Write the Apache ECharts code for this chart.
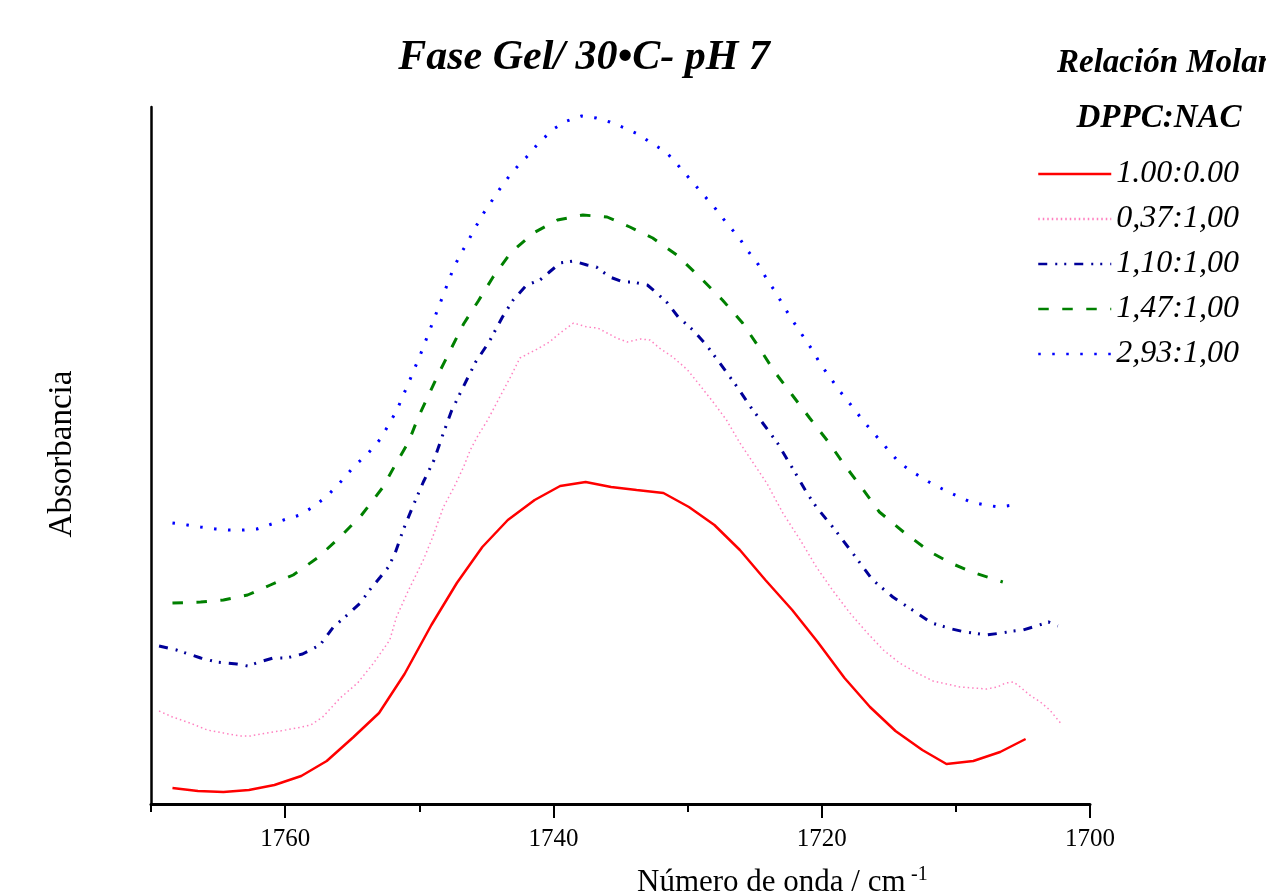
<!DOCTYPE html>
<html>
<head>
<meta charset="utf-8">
<title>Fase Gel 30C pH 7</title>
<script src="https://cdn.jsdelivr.net/npm/echarts@6/dist/echarts.min.js"></script>
<style>
  html, body { margin: 0; padding: 0; background: #fff; }
  #chart { width: 1266px; height: 892px; }
</style>
</head>
<body>
<div id="chart"></div>
<script>
// [wavenumber cm-1, absorbance (a.u.)]
const ratio100_000 = [
  [1768.4, 0.016], [1766.5, 0.013], [1764.6, 0.012], [1762.7, 0.014], [1760.8, 0.019],
  [1758.8, 0.028], [1756.9, 0.043], [1754.9, 0.067], [1753.0, 0.091], [1751.1, 0.130],
  [1749.1, 0.179], [1747.2, 0.221], [1745.3, 0.257], [1743.4, 0.284], [1741.4, 0.304],
  [1739.5, 0.318], [1737.6, 0.322], [1735.7, 0.317], [1733.8, 0.314], [1731.8, 0.311],
  [1729.9, 0.297], [1728.0, 0.279], [1726.1, 0.254], [1724.2, 0.224], [1722.2, 0.194],
  [1720.3, 0.162], [1718.3, 0.126], [1716.4, 0.097], [1714.5, 0.073], [1712.5, 0.054],
  [1710.7, 0.040], [1708.7, 0.043], [1706.7, 0.052], [1704.8, 0.065]
]
const ratio037_100 = [
  [1769.4, 0.093], [1768.4, 0.087], [1767.1, 0.081], [1765.8, 0.074], [1764.6, 0.071],
  [1763.4, 0.068], [1762.6, 0.068], [1761.4, 0.071], [1760.4, 0.073], [1759.1, 0.076],
  [1758.1, 0.079], [1757.2, 0.087], [1755.9, 0.106], [1754.6, 0.121], [1753.4, 0.141],
  [1752.2, 0.164], [1751.7, 0.187], [1750.9, 0.211], [1749.7, 0.244], [1749.0, 0.267],
  [1748.2, 0.297], [1747.4, 0.317], [1746.7, 0.337], [1746.2, 0.354], [1745.6, 0.369],
  [1744.9, 0.384], [1744.0, 0.407], [1743.2, 0.427], [1742.5, 0.446], [1741.2, 0.455],
  [1740.3, 0.462], [1739.5, 0.471], [1738.5, 0.481], [1737.5, 0.477], [1736.7, 0.476],
  [1736.0, 0.471], [1735.3, 0.466], [1734.5, 0.462], [1733.5, 0.465], [1732.8, 0.464],
  [1732.1, 0.456], [1731.1, 0.447], [1730.0, 0.434], [1729.1, 0.419], [1728.1, 0.402],
  [1727.1, 0.384], [1726.1, 0.361], [1725.1, 0.341], [1724.1, 0.321], [1722.9, 0.291],
  [1721.6, 0.264], [1720.4, 0.237], [1719.2, 0.214], [1717.9, 0.191], [1716.6, 0.171],
  [1715.4, 0.154], [1714.2, 0.141], [1712.9, 0.131], [1711.7, 0.123], [1710.7, 0.120],
  [1709.7, 0.117], [1708.7, 0.116], [1707.7, 0.115], [1706.9, 0.117], [1706.3, 0.121],
  [1705.7, 0.122], [1705.2, 0.117], [1704.5, 0.109], [1703.7, 0.102], [1703.0, 0.094],
  [1702.2, 0.081]
]
const ratio110_100 = [
  [1769.4, 0.158], [1768.1, 0.154], [1766.3, 0.146], [1765.1, 0.142], [1763.6, 0.140],
  [1762.8, 0.138], [1761.9, 0.142], [1760.9, 0.146], [1759.9, 0.146], [1758.7, 0.150],
  [1757.4, 0.159], [1756.4, 0.177], [1755.2, 0.191], [1754.4, 0.201], [1753.7, 0.214],
  [1752.9, 0.227], [1752.3, 0.237], [1751.8, 0.251], [1751.2, 0.274], [1750.5, 0.297],
  [1749.7, 0.322], [1748.9, 0.344], [1748.2, 0.371], [1747.6, 0.393], [1746.8, 0.415],
  [1745.8, 0.442], [1744.8, 0.462], [1743.8, 0.487], [1743.0, 0.504], [1742.0, 0.519],
  [1741.0, 0.524], [1740.3, 0.532], [1739.5, 0.541], [1738.5, 0.543], [1737.5, 0.539],
  [1736.8, 0.537], [1735.8, 0.527], [1734.8, 0.522], [1734.1, 0.522], [1733.0, 0.519],
  [1732.3, 0.511], [1731.5, 0.501], [1730.7, 0.487], [1729.6, 0.474], [1728.6, 0.459],
  [1727.6, 0.441], [1726.3, 0.417], [1725.3, 0.397], [1724.4, 0.381], [1723.3, 0.361],
  [1722.1, 0.334], [1721.1, 0.311], [1720.4, 0.297], [1719.0, 0.274], [1717.7, 0.251],
  [1716.2, 0.224], [1714.7, 0.207], [1712.9, 0.191], [1711.8, 0.181], [1710.3, 0.175],
  [1709.3, 0.172], [1707.7, 0.169], [1706.6, 0.171], [1705.7, 0.173], [1705.0, 0.174],
  [1704.0, 0.178], [1703.1, 0.182], [1702.4, 0.178]
]
const ratio147_100 = [
  [1768.4, 0.201], [1766.3, 0.202], [1764.6, 0.204], [1762.8, 0.209], [1761.1, 0.219],
  [1759.4, 0.229], [1757.6, 0.246], [1755.9, 0.267], [1754.3, 0.289], [1752.7, 0.317],
  [1751.8, 0.339], [1750.8, 0.362], [1750.1, 0.386], [1749.3, 0.409], [1748.5, 0.432],
  [1747.6, 0.456], [1746.7, 0.480], [1745.6, 0.503], [1744.5, 0.527], [1743.2, 0.551],
  [1741.5, 0.571], [1739.7, 0.584], [1737.8, 0.589], [1736.0, 0.587], [1734.3, 0.577],
  [1732.6, 0.566], [1730.8, 0.549], [1729.1, 0.527], [1727.4, 0.504], [1725.9, 0.481],
  [1724.7, 0.457], [1723.5, 0.432], [1722.2, 0.409], [1720.9, 0.386], [1719.5, 0.362],
  [1718.3, 0.339], [1717.0, 0.316], [1715.7, 0.292], [1713.9, 0.272], [1711.9, 0.252],
  [1710.4, 0.241], [1708.6, 0.231], [1706.5, 0.222]
]
const ratio293_100 = [
  [1768.4, 0.281], [1767.3, 0.279], [1766.3, 0.277], [1765.2, 0.275], [1764.2, 0.274],
  [1763.1, 0.274], [1762.1, 0.275], [1761.0, 0.280], [1759.9, 0.285], [1758.9, 0.289],
  [1757.8, 0.298], [1756.8, 0.309], [1755.8, 0.323], [1754.9, 0.337], [1753.8, 0.351],
  [1752.9, 0.365], [1751.7, 0.393], [1750.8, 0.421], [1749.9, 0.450], [1749.1, 0.478],
  [1748.3, 0.506], [1747.5, 0.534], [1747.0, 0.548], [1746.4, 0.562], [1745.8, 0.577],
  [1745.2, 0.591], [1744.5, 0.605], [1743.8, 0.619], [1743.0, 0.633], [1742.0, 0.647],
  [1741.1, 0.661], [1740.0, 0.675], [1739.0, 0.683], [1737.9, 0.688], [1736.8, 0.686],
  [1735.8, 0.682], [1734.7, 0.676], [1733.7, 0.670], [1732.7, 0.661], [1731.6, 0.652],
  [1730.6, 0.637], [1729.7, 0.623], [1728.8, 0.609], [1727.9, 0.595], [1727.1, 0.581],
  [1726.2, 0.567], [1725.5, 0.553], [1724.7, 0.539], [1724.1, 0.525], [1723.4, 0.511],
  [1722.8, 0.497], [1722.1, 0.482], [1721.4, 0.468], [1720.7, 0.454], [1720.1, 0.440],
  [1719.3, 0.425], [1718.6, 0.412], [1717.7, 0.397], [1716.9, 0.383], [1716.0, 0.369],
  [1715.1, 0.355], [1714.2, 0.341], [1713.1, 0.331], [1712.0, 0.322], [1711.0, 0.315],
  [1709.9, 0.308], [1708.9, 0.302], [1707.8, 0.299], [1706.8, 0.297], [1705.7, 0.299]
]

const seriesNames = ['1.00:0.00', '0,37:1,00', '1,10:1,00', '1,47:1,00', '2,93:1,00']
const majorTicks = [1700, 1720, 1740, 1760]
const minorTicks = [1710, 1730, 1750, 1770]

const serif = '"Liberation Serif", "Times New Roman", serif'

const chart = echarts.init(document.getElementById('chart'))

function curve(name, data, color, width, dash) {
  return {
    name: name,
    type: 'line',
    data: data,
    symbol: 'none',
    smooth: false,
    lineStyle: { color: color, width: width, type: dash },
    itemStyle: { color: color }
  }
}

const option = {
  animation: false,
  backgroundColor: '#ffffff',
  grid: { left: 151, right: 176, top: 107, bottom: 88 },
  legend: {
    orient: 'vertical',
    left: 1037,
    top: 158,
    padding: 0,
    itemWidth: 73,
    itemHeight: 14,
    itemGap: 13,
    itemStyle: { opacity: 0 },
    lineStyle: { width: 2.5 },
    textStyle: {
      fontFamily: serif,
      fontStyle: 'italic',
      fontSize: 32,
      lineHeight: 32,
      color: '#000'
    },
    data: seriesNames
  },
  xAxis: [
    {
      type: 'value',
      inverse: true,
      min: 1700,
      max: 1770,
      interval: 10,
      axisLine: { show: true, onZero: false, lineStyle: { color: '#000', width: 3 } },
      axisTick: {
        show: true,
        length: 14,
        customValues: majorTicks,
        lineStyle: { color: '#000', width: 2 }
      },
      axisLabel: {
        customValues: majorTicks,
        margin: 23,
        fontFamily: serif,
        fontSize: 25,
        color: '#000',
        formatter(v) {
          return (v % 20 === 0 && v < 1770) ? String(v) : ''
        }
      },
      splitLine: { show: false }
    },
    {
      type: 'value',
      inverse: true,
      min: 1700,
      max: 1770,
      interval: 10,
      position: 'bottom',
      axisLine: { show: false },
      axisTick: {
        show: true,
        length: 8,
        customValues: minorTicks,
        lineStyle: { color: '#000', width: 2 }
      },
      axisLabel: { show: false },
      splitLine: { show: false }
    }
  ],
  yAxis: {
    type: 'value',
    min: 0,
    max: 0.697,
    axisLine: { show: true, onZero: false, lineStyle: { color: '#000', width: 2.5 } },
    axisTick: { show: false },
    axisLabel: { show: false },
    splitLine: { show: false }
  },
  graphic: [
    {
      type: 'text', x: 584, y: 58,
      style: {
        text: 'Fase Gel/ 30\u2022C- pH 7', fill: '#000',
        fontFamily: serif, fontSize: 42, fontWeight: 'bold', fontStyle: 'italic',
        align: 'center', verticalAlign: 'middle'
      }
    },
    {
      type: 'text', x: 1057, y: 63,
      style: {
        text: 'Relación Molar', fill: '#000',
        fontFamily: serif, fontSize: 33, fontWeight: 'bold', fontStyle: 'italic',
        align: 'left', verticalAlign: 'middle'
      }
    },
    {
      type: 'text', x: 1159, y: 118,
      style: {
        text: 'DPPC:NAC', fill: '#000',
        fontFamily: serif, fontSize: 33, fontWeight: 'bold', fontStyle: 'italic',
        align: 'center', verticalAlign: 'middle'
      }
    },
    {
      type: 'text', x: 62, y: 454, rotation: Math.PI / 2,
      style: {
        text: 'Absorbancia', fill: '#000',
        fontFamily: serif, fontSize: 33,
        align: 'center', verticalAlign: 'middle'
      }
    },
    {
      type: 'text', x: 637, y: 883,
      style: {
        text: 'Número de onda / cm', fill: '#000',
        fontFamily: serif, fontSize: 31,
        align: 'left', verticalAlign: 'middle'
      }
    },
    {
      type: 'text', x: 911, y: 875,
      style: {
        text: '-1', fill: '#000',
        fontFamily: serif, fontSize: 20,
        align: 'left', verticalAlign: 'middle'
      }
    }
  ],
  series: [
    curve(seriesNames[0], ratio100_000, '#ff0000', 2.5, 'solid'),
    curve(seriesNames[1], ratio037_100, '#ff80c0', 1.5, [1.5, 3]),
    curve(seriesNames[2], ratio110_100, '#000099', 3, [9, 8, 2, 7, 2, 8]),
    curve(seriesNames[3], ratio147_100, '#008000', 3, [10.5, 13.5]),
    curve(seriesNames[4], ratio293_100, '#0000ff', 3, [2.5, 11.5])
  ]
}

chart.setOption(option)
</script>
</body>
</html>
